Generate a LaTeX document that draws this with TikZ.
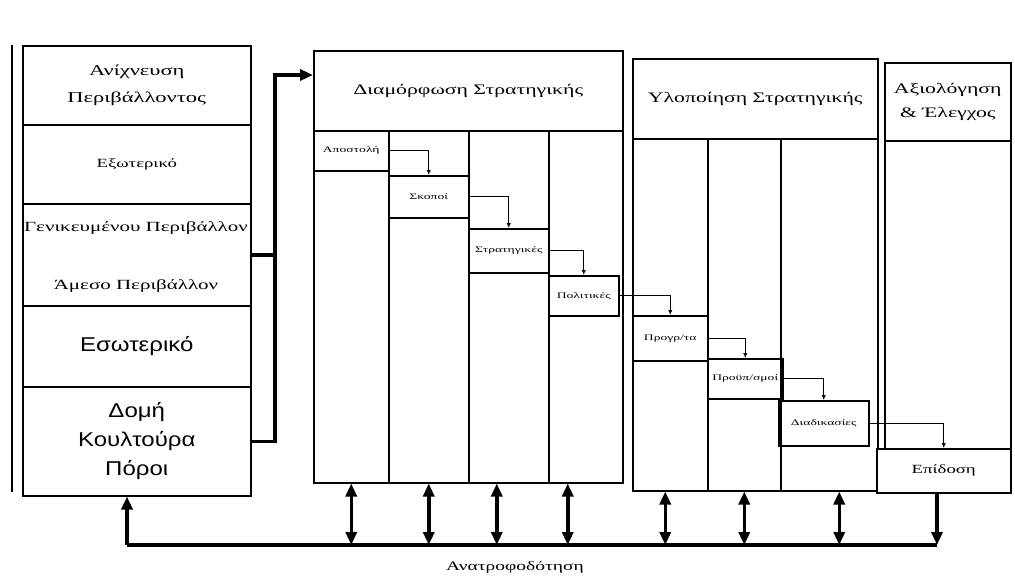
\documentclass[tikz,border=0pt]{standalone}
\usepackage{fontspec}
\setmainfont{Liberation Serif}
\newfontfamily\wserif[FakeStretch=1.5]{Liberation Serif}
\newfontfamily\xserif[FakeStretch=1.6]{Liberation Serif}
\newfontfamily\wsans[FakeStretch=1.2]{Liberation Sans}
\usetikzlibrary{arrows.meta,calc}
\tikzset{
  cell/.style={draw=black, line width=1.5pt, inner sep=0pt, anchor=north west, align=center},
  lbl/.style={font=\wserif\fontsize{15}{27}\selectfont},
  mid/.style={font=\wserif\fontsize{12.5}{15}\selectfont},
  midb/.style={font=\wserif\fontsize{14}{16}\selectfont},
  sml/.style={font=\xserif\fontsize{8.5}{10}\selectfont},
  hdr/.style={font=\wserif\fontsize{14.5}{24}\selectfont},
  sansbig/.style={font=\wsans\fontsize{20}{29}\selectfont},
  fat/.style={line width=3.5pt},
  stepline/.style={line width=1.4pt, -{Latex[length=5pt,width=4.5pt]}},
  bighead/.style={-{Triangle[length=13pt,width=11pt]}},
  bothheads/.style={{Triangle[length=13pt,width=11pt]}-{Triangle[length=13pt,width=11pt]}},
}
\begin{document}
\begin{tikzpicture}[x=1pt,y=-1pt]
\useasboundingbox[fill=white] (0,0) rectangle (1015,587);

% margin line
\draw[line width=2pt] (12,45) -- (12,492);

% left column
\node[cell, lbl, minimum width=228pt, minimum height=79pt] (L1) at (22,45) {Ανίχνευση\\Περιβάλλοντος};
\node[cell, mid, minimum width=228pt, minimum height=79pt] (L2) at (22,124) {Εξωτερικό};
\node[cell, minimum width=228pt, minimum height=102pt] (L3) at (22,203) {};
\node[midb] (L3a) at (136,228) {Γενικευμένου Περιβάλλον};
\node[midb] (L3b) at (136,286) {Άμεσο Περιβάλλον};
\node[cell, sansbig, minimum width=228pt, minimum height=81pt] (L4) at (22,305) {Εσωτερικό};
\node[cell, sansbig, minimum width=228pt, minimum height=109pt] (L5) at (22,386) {Δομή\\Κουλτούρα\\Πόροι};

% formulation
\node[cell, hdr, minimum width=309pt, minimum height=80pt] (Dh) at (313,50) {Διαμόρφωση Στρατηγικής};
\node[cell, minimum width=75pt, minimum height=352pt] (Dc1) at (313,130) {};
\node[cell, minimum width=80pt, minimum height=352pt] (Dc2) at (388,130) {};
\node[cell, minimum width=80pt, minimum height=352pt] (Dc3) at (468,130) {};
\node[cell, minimum width=74pt, minimum height=352pt] (Dc4) at (548,130) {};
\node[cell, sml, minimum width=75pt, minimum height=40pt] (A1) at (313,130) {Αποστολή};
\node[cell, sml, minimum width=80pt, minimum height=42pt] (A2) at (388,175) {Σκοποί};
\node[cell, sml, minimum width=80pt, minimum height=44pt] (A3) at (468,228) {Στρατηγικές};
\node[cell, sml, minimum width=70pt, minimum height=40pt] (A4) at (548,275) {Πολιτικές};

% implementation
\node[cell, hdr, minimum width=245pt, minimum height=80pt] (Uh) at (632,58) {Υλοποίηση Στρατηγικής};
\node[cell, minimum width=75pt, minimum height=352pt] (Uc1) at (632,138) {};
\node[cell, minimum width=73pt, minimum height=352pt] (Uc2) at (707,138) {};
\node[cell, minimum width=97pt, minimum height=352pt] (Uc3) at (780,138) {};
\node[cell, sml, minimum width=75pt, minimum height=45pt] (B1) at (632,315) {Προγρ/τα};
\node[cell, sml, minimum width=75pt, minimum height=40pt] (B2) at (707,358) {Προϋπ/σμοί};
\node[cell, sml, minimum width=90pt, minimum height=45pt] (B3) at (778,400) {Διαδικασίες};

% evaluation
\node[cell, hdr, minimum width=126pt, minimum height=78pt] (Eh) at (884,62) {Αξιολόγηση\\\& Έλεγχος};
\node[cell, minimum width=126pt, minimum height=308pt] (Eb) at (884,140) {};
\node[cell, mid, fill=white, minimum width=134pt, minimum height=44pt] (P) at (876,448) {Επίδοση};

% step connectors
\draw[stepline] (A1.east) -| (A2.north);
\draw[stepline] (A2.east) -| (A3.north);
\draw[stepline] (A3.east) -| (A4.north);
\draw[stepline] (A4.east) -| (B1.north);
\draw[stepline] (B1.east) -| (B2.north);
\draw[stepline] (B2.east) -| (B3.north);
\draw[stepline] (B3.east) -| (P.north);

% input arrow from scanning
\coordinate (j) at (275,75);
\draw[fat] (L3.east) -- (L3.east -| j);
\draw[fat, bighead] (L5.east) -| (j) -- (Dh.west |- j);

% feedback
\coordinate (fbL) at (127,545);
\coordinate (fbR) at (937,545);
\draw[line width=4.5pt] (fbL) -- (fbR);
\draw[fat, bighead] (fbL) -- (fbL |- L5.south);
\draw[fat, bighead] (P.south -| fbR) -- (fbR);
\draw[fat, bothheads] (Dc1.south) -- (Dc1.south |- fbL);
\draw[fat, bothheads] (Dc2.south) -- (Dc2.south |- fbL);
\draw[fat, bothheads] ($(Dc3.south)+(-12,0)$) -- ($(Dc3.south |- fbL)+(-12,0)$);
\draw[fat, bothheads] ($(Dc4.south)+(-18,0)$) -- ($(Dc4.south |- fbL)+(-18,0)$);
\draw[fat, bothheads] ($(Uc1.south)+(-5,0)$) -- ($(Uc1.south |- fbL)+(-5,0)$);
\draw[fat, bothheads] (Uc2.south) -- (Uc2.south |- fbL);
\draw[fat, bothheads] ($(Uc3.south)+(10,0)$) -- ($(Uc3.south |- fbL)+(10,0)$);
\node[font=\wserif\fontsize{13}{15}\selectfont] (fb) at (515,567) {Ανατροφοδότηση};
\end{tikzpicture}
\end{document}
